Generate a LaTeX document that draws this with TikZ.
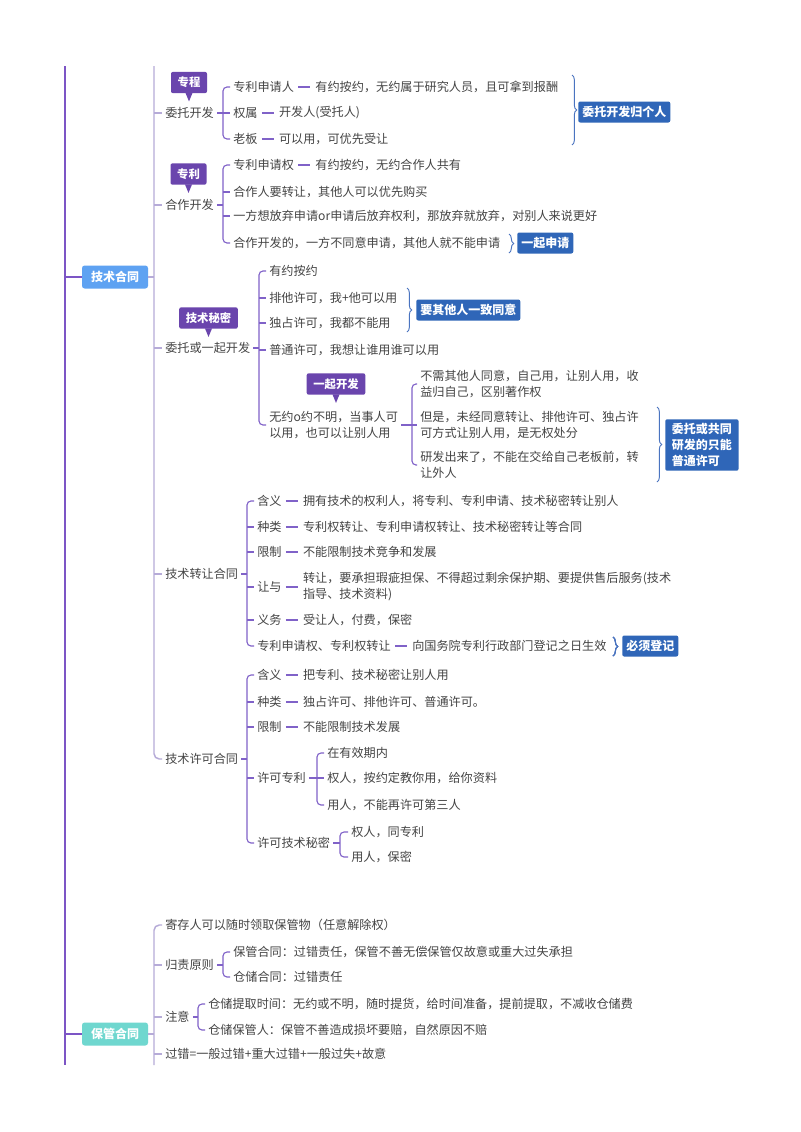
\documentclass[tikz,border=0pt]{standalone}
\usepackage{fontspec}
\setmainfont{Noto Sans CJK SC}
\usetikzlibrary{calc,decorations.pathreplacing}
\definecolor{txtc}{HTML}{444444}
\definecolor{l1c}{HTML}{7C55C5}
\definecolor{l2c}{HTML}{B6ABD8}
\definecolor{brcc}{HTML}{8062C8}
\definecolor{tagc}{HTML}{6A45AD}
\definecolor{calc}{HTML}{2F66B8}
\definecolor{bracec}{HTML}{4A74C0}
\definecolor{jsc}{HTML}{5EA2F2}
\definecolor{bgc}{HTML}{6FD7CF}
\newcommand{\stemto}[2]{\draw[br] ($(#1.east)+(3,0)$) -- (#1.east -| #2);}
\newcommand{\tick}[2]{\draw[br] (#2.west -| #1) -- ($(#2.west)+(-3,0)$);}
\newcommand{\spine}[3]{\draw[br,rounded corners=3pt] ($(#2.west)+(-3,0)$) -| (#3.west -| #1) -- ($(#3.west)+(-3,0)$);}
\newcommand{\valnode}[3]{\node[txt] (#2) at ($(#1.east)+(21,0)$) {#3};
  \draw[br] ($(#1.east)+(4,0)$) -- ($(#2.west)+(-5,0)$);}
\newcommand{\tagon}[3]{\node[tagbox] (#1) at (#2) {#3};
  \fill[tagc] ($(#1.south)+(-3.5,-0.5)$) -- ($(#1.south)+(3.5,-0.5)$) -- ($(#1.south)+(0,8)$) -- cycle;}
\begin{document}
\begin{tikzpicture}[x=0.75pt,y=-0.75pt,
  txt/.style={anchor=west,inner sep=0pt,text=txtc,font=\fontsize{9.1}{12}\selectfont,align=left},
  tagbox/.style={fill=tagc,text=white,font=\fontsize{8.5}{10}\selectfont\bfseries,rounded corners=1.5pt,minimum height=16pt,inner xsep=5pt,inner ysep=0pt},
  callout/.style={fill=calc,text=white,font=\fontsize{9}{12}\selectfont\bfseries,rounded corners=1.5pt,minimum height=15.75pt,inner xsep=3pt,inner ysep=0pt,anchor=west,align=left},
  mainbox/.style={text=white,font=\fontsize{9}{12}\selectfont\bfseries,rounded corners=2pt,minimum height=17.25pt,minimum width=49.5pt,inner sep=0pt},
  l1/.style={draw=l1c,line width=1.5pt},
  l2/.style={draw=l2c,line width=1.1pt},
  br/.style={draw=brcc,line width=0.85pt},
  brc/.style={draw=bracec,line width=0.7pt,decorate,decoration={brace,amplitude=3.5pt}}]
\useasboundingbox (0,0) rectangle (800,1132);
\fill[white] (0,0) rectangle (800,1132);

% ---- main line and main topics
\coordinate (mtop) at (65,66);
\coordinate (mbot) at (65,1065);
\draw[l1] (mtop) -- (mbot);
\node[mainbox,fill=jsc] (js) at (115,277) {技术合同};
\node[mainbox,fill=bgc] (bg) at (115,1034) {保管合同};
\draw[l1] (js.west -| mtop) -- (js.west);
\draw[l1] (bg.west -| mtop) -- (bg.west);

% ---- level 2 of 技术合同
\coordinate (L2) at (154,66);
\node[txt] (wt) at (165,113) {委托开发};
\node[txt] (hz) at (165,205) {合作开发};
\node[txt] (wy) at (165,348) {委托或一起开发};
\node[txt] (zr) at (165,574) {技术转让合同};
\node[txt] (xk) at (165,759) {技术许可合同};
\draw[l2] (js.east) -- (js.east -| L2);
\draw[l2,rounded corners=4pt] (L2) |- ($(xk.west)+(-3,0)$);
\foreach \n in {wt,hz,wy,zr} \draw[l2] (\n.west -| L2) -- ($(\n.west)+(-3,0)$);

% ---- 委托开发
\tagon{t1}{189,82.5}{专程}
\coordinate (XA) at (223,0);
\node[txt] (a1) at (233,87) {专利申请人};
\node[txt] (a2) at (233,113) {权属};
\node[txt] (a3) at (233,139) {老板};
\valnode{a1}{a1v}{有约按约，无约属于研究人员，且可拿到报酬}
\valnode{a2}{a2v}{开发人(受托人)}
\valnode{a3}{a3v}{可以用，可优先受让}
\stemto{wt}{XA}
\spine{XA}{a1}{a3}
\tick{XA}{a2}
\draw[brc] (572,75) -- (572,145);
\node[callout] (k1) at (578,112) {委托开发归个人};

% ---- 合作开发
\tagon{t2}{188.5,174}{专利}
\coordinate (XB) at (223,0);
\node[txt] (b1) at (233,165) {专利申请权};
\node[txt] (b2) at (233,192) {合作人要转让，其他人可以优先购买};
\node[txt] (b3) at (233,216) {一方想放弃申请or申请后放弃权利，那放弃就放弃，对别人来说更好};
\node[txt] (b4) at (233,243) {合作开发的，一方不同意申请，其他人就不能申请};
\valnode{b1}{b1v}{有约按约，无约合作人共有}
\stemto{hz}{XB}
\spine{XB}{b1}{b4}
\tick{XB}{b2}
\tick{XB}{b3}
\draw[brc] (509,234) -- (509,253);
\node[callout] (k2) at (517,243) {一起申请};

% ---- 委托或一起开发
\tagon{t3}{208.5,318}{技术秘密}
\coordinate (XC) at (259,0);
\node[txt] (c1) at (269,271) {有约按约};
\node[txt] (c2) at (269,298) {排他许可，我+他可以用};
\node[txt] (c3) at (269,323) {独占许可，我都不能用};
\node[txt] (c4) at (269,350) {普通许可，我想让谁用谁可以用};
\node[txt] (c5) at (269,425) {无约o约不明，当事人可\\以用，也可以让别人用};
\stemto{wy}{XC}
\spine{XC}{c1}{c5}
\tick{XC}{c2}
\tick{XC}{c3}
\tick{XC}{c4}
\draw[brc] (407,288) -- (407,332);
\node[callout] (k3) at (416,310) {要其他人一致同意};
\tagon{t4}{336,384}{一起开发}
\coordinate (XD) at (412,0);
\node[txt] (d1) at (420,384) {不需其他人同意，自己用，让别人用，收\\益归自己，区别著作权};
\node[txt] (d2) at (420,425) {但是，未经同意转让、排他许可、独占许\\可方式让别人用，是无权处分};
\node[txt] (d3) at (420,465) {研发出来了，不能在交给自己老板前，转\\让外人};
\stemto{c5}{XD}
\spine{XD}{d1}{d3}
\tick{XD}{d2}
\draw[brc] (657,407) -- (657,482);
\node[callout,inner ysep=3pt,inner xsep=5pt] (k4) at (665,445) {委托或共同\\研发的只能\\普通许可};

% ---- 技术转让合同
\coordinate (XE) at (247,0);
\node[txt] (e1) at (257,501) {含义};
\node[txt] (e2) at (257,527) {种类};
\node[txt] (e3) at (257,552) {限制};
\node[txt] (e4) at (257,587) {让与};
\node[txt] (e5) at (257,620) {义务};
\node[txt] (e6) at (257,646) {专利申请权、专利权转让};
\valnode{e1}{e1v}{拥有技术的权利人，将专利、专利申请、技术秘密转让别人}
\valnode{e2}{e2v}{专利权转让、专利申请权转让、技术秘密转让等合同}
\valnode{e3}{e3v}{不能限制技术竞争和发展}
\valnode{e4}{e4v}{转让，要承担瑕疵担保、不得超过剩余保护期、要提供售后服务(技术\\指导、技术资料)}
\valnode{e5}{e5v}{受让人，付费，保密}
\valnode{e6}{e6v}{向国务院专利行政部门登记之日生效}
\stemto{zr}{XE}
\spine{XE}{e1}{e6}
\foreach \n in {e2,e3,e4,e5} \tick{XE}{\n}
\draw[brc] (613,637) -- (613,656);
\node[callout] (k5) at (622,646) {必须登记};

% ---- 技术许可合同
\coordinate (XF) at (247,0);
\node[txt] (f1) at (257,675) {含义};
\node[txt] (f2) at (257,702) {种类};
\node[txt] (f3) at (257,727) {限制};
\node[txt] (f4) at (257,778) {许可专利};
\node[txt] (f5) at (257,843) {许可技术秘密};
\valnode{f1}{f1v}{把专利、技术秘密让别人用}
\valnode{f2}{f2v}{独占许可、排他许可、普通许可。}
\valnode{f3}{f3v}{不能限制技术发展}
\stemto{xk}{XF}
\spine{XF}{f1}{f5}
\foreach \n in {f2,f3,f4} \tick{XF}{\n}
\coordinate (XG) at (317,0);
\node[txt] (fa) at (327,753) {在有效期内};
\node[txt] (fb) at (327,778) {权人，按约定教你用，给你资料};
\node[txt] (fc) at (327,805) {用人，不能再许可第三人};
\stemto{f4}{XG}
\spine{XG}{fa}{fc}
\tick{XG}{fb}
\coordinate (XH) at (340,0);
\node[txt] (fd) at (351,832) {权人，同专利};
\node[txt] (fe) at (351,857) {用人，保密};
\stemto{f5}{XH}
\spine{XH}{fd}{fe}

% ---- 保管合同
\coordinate (XI) at (154,1065);
\node[txt] (h1) at (165,925) {寄存人可以随时领取保管物（任意解除权）};
\node[txt] (h2) at (165,965) {归责原则};
\node[txt] (h3) at (165,1017) {注意};
\node[txt] (h4) at (165,1054) {过错=一般过错+重大过错+一般过失+故意};
\draw[l2] (bg.east) -- (bg.east -| XI);
\draw[l2,rounded corners=4pt] ($(h1.west)+(-3,0)$) -| (XI);
\foreach \n in {h2,h3,h4} \draw[l2] (\n.west -| XI) -- ($(\n.west)+(-3,0)$);
\coordinate (XJ) at (223,0);
\node[txt] (ja) at (233,952) {保管合同：过错责任，保管不善无偿保管仅故意或重大过失承担};
\node[txt] (jb) at (233,977) {仓储合同：过错责任};
\stemto{h2}{XJ}
\spine{XJ}{ja}{jb}
\coordinate (XK) at (198,0);
\node[txt] (ka) at (208,1004) {仓储提取时间：无约或不明，随时提货，给时间准备，提前提取，不减收仓储费};
\node[txt] (kb) at (208,1030) {仓储保管人：保管不善造成损坏要赔，自然原因不赔};
\stemto{h3}{XK}
\spine{XK}{ka}{kb}
\end{tikzpicture}
\end{document}
